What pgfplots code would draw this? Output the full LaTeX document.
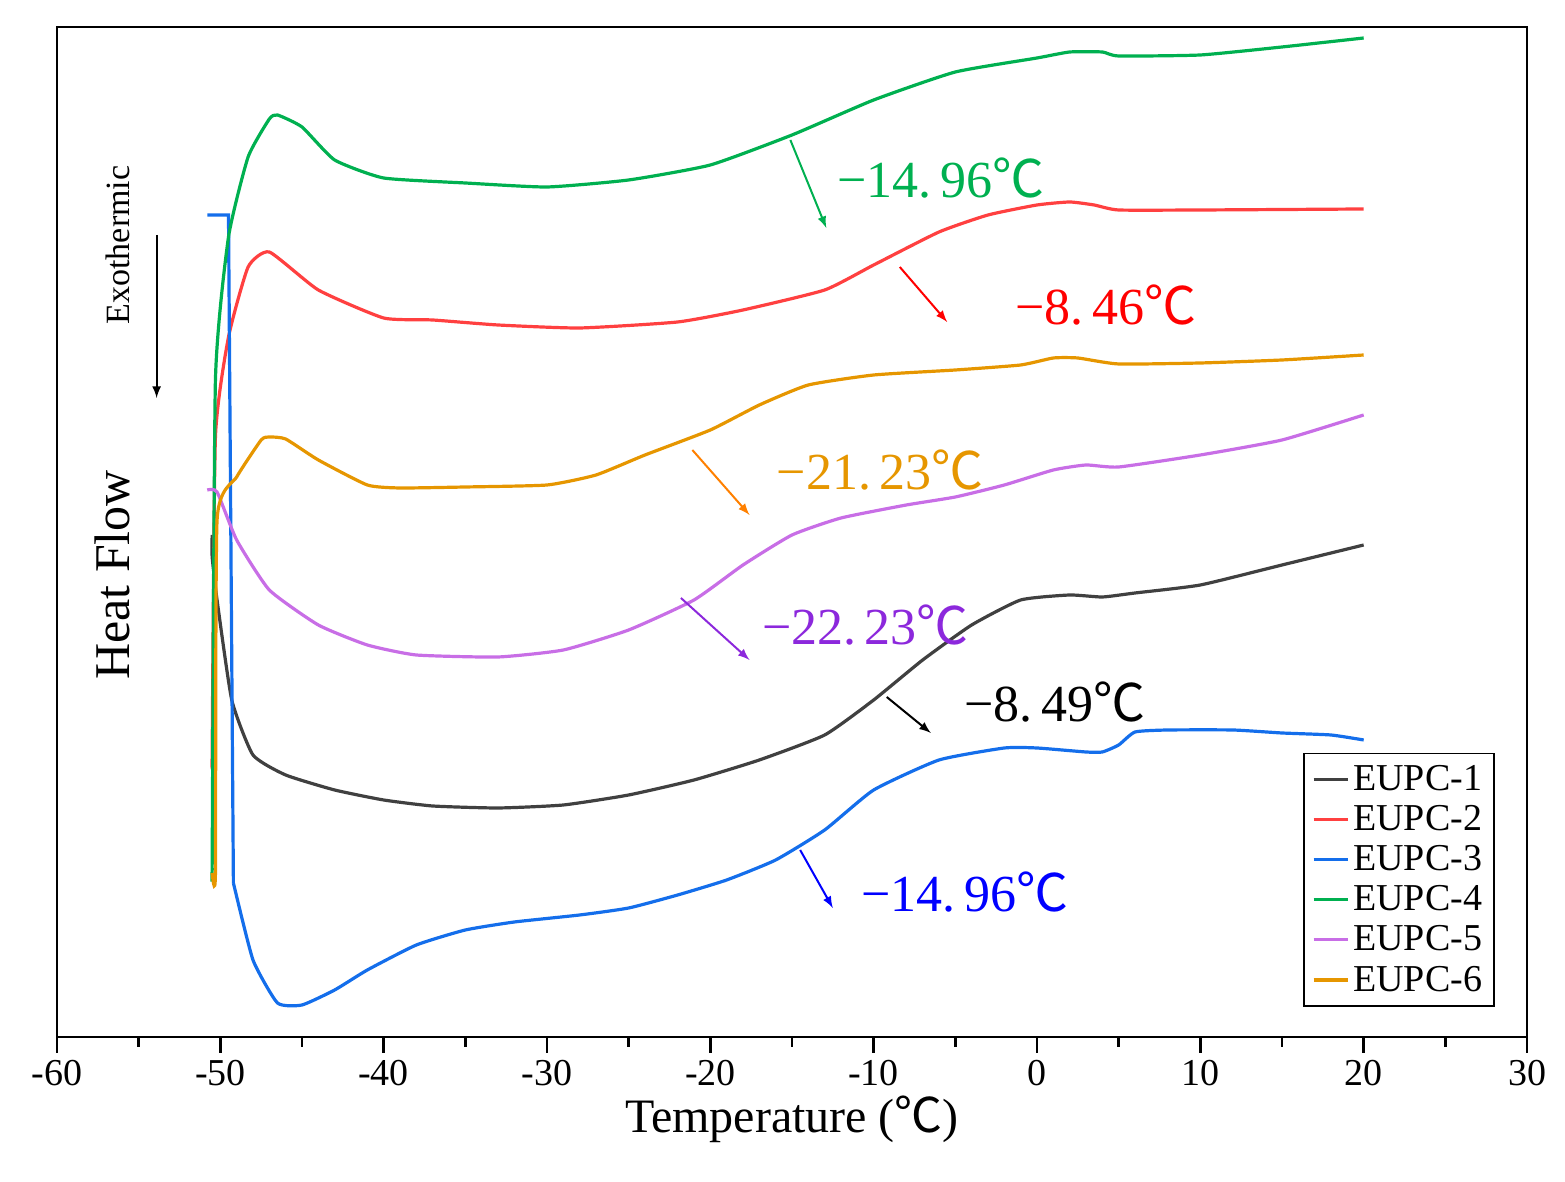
\documentclass[border=0pt]{standalone}
\usepackage{pgfplots}
\pgfplotsset{compat=1.18}
\usepackage{fontspec}
\setmainfont{Liberation Serif}
\newfontfamily\cjk{Noto Sans CJK SC}
\newcommand{\dc}{{\cjk ℃}}
\definecolor{cgreen}{RGB}{0,176,80}
\definecolor{cred}{RGB}{255,64,64}
\definecolor{cblue}{RGB}{20,110,235}
\definecolor{corange}{RGB}{230,150,0}
\definecolor{cpurple}{RGB}{200,110,230}
\definecolor{cblack}{RGB}{64,64,64}
\definecolor{vio}{RGB}{140,40,220}
\begin{document}
\begin{tikzpicture}
\path[use as bounding box] (-28.5pt,-72.5pt) rectangle (754pt,518.5pt);
\begin{axis}[
  scale only axis, width=735pt, height=505pt,
  xmin=-60, xmax=30, ymin=0, ymax=1010,
  xtick={-60,-50,...,30}, minor x tick num=1,
  ytick=\empty, tick align=outside, xtick pos=bottom,
  major tick length=8pt, minor tick length=5pt,
  axis line style={line width=1.2pt}, every tick/.style={black,line width=1.2pt},
  ticklabel style={font=\fontsize{19}{19}\selectfont},
  /pgf/number format/assume math mode=true,
  xticklabel={\pgfmathprintnumber[assume math mode=true]{\tick}},
  xlabel={\fontsize{24}{24}\selectfont Temperature (\dc)},
  xlabel style={yshift=2pt},
  clip=false,
  every axis plot/.append style={line width=1.6pt, smooth, tension=0.3},
  legend image post style={sharp plot},
  legend style={at={(rel axis cs:0.978,0.03)}, anchor=south east, font=\fontsize{19}{22}\selectfont, draw=black, line width=0.6pt, row sep=2pt, inner sep=4pt},
  legend cell align=left,
]
\addplot[cblack] coordinates {(-50.5,502)(-50.5,480)(-50.2,437)(-49.3,337)(-48,282)(-46,262)(-43,247)(-40,237)(-37,231)(-33,229)(-29,232)(-25,242)(-21,257)(-17,277)(-13,302)(-10,337)(-7,377)(-4,412)(-1,437)(2,442)(4,440)(6,444)(10,452)(15,472)(20,492)};
\addlegendentry{EUPC-1}
\addplot[cred] coordinates {(-50.5,275)(-50.5,285)(-50.3,600)(-49.5,700)(-48.3,770)(-47,785)(-44,747)(-40,719)(-37,717)(-33,712)(-28,709)(-22,715)(-18,727)(-13,747)(-10,772)(-6,805)(-3,822)(0,832)(2,835)(3.5,832)(5,827)(10,827)(20,828)};
\addlegendentry{EUPC-2}
\addplot[cblue,sharp plot] coordinates {(-50.8,822)(-49.5,822)(-49.2,154)};
\addlegendentry{EUPC-3}
\addplot[cblue,forget plot] coordinates {(-49.2,154)(-48,77)(-46.5,34)(-45,32)(-43,47)(-41,67)(-38,92)(-35,107)(-32,115)(-28,122)(-25,129)(-22,142)(-19,157)(-16,177)(-13,207)(-10,247)(-6,277)(-2,289)(0,289)(3,285)(4,285)(5,292)(6,305)(8,307)(12,307)(15,304)(18,302)(20,297)};
\addplot[cgreen] coordinates {(-50.5,169)(-50.5,175)(-50.3,657)(-49.5,800)(-48.3,880)(-47,918)(-46.5,922)(-45,910)(-43,877)(-40,859)(-35,854)(-30,850)(-25,857)(-20,872)(-15,902)(-10,937)(-5,965)(0,979)(2,985)(4,985)(5,981)(10,982)(15,990)(20,999)};
\addlegendentry{EUPC-4}
\addplot[cpurple] coordinates {(-50.8,547)(-50.2,545)(-49,497)(-47,447)(-44,412)(-41,392)(-38,382)(-33,380)(-29,387)(-25,407)(-21,437)(-18,472)(-15,502)(-12,519)(-8,532)(-5,540)(-2,552)(1,567)(3,572)(5,570)(10,582)(15,597)(20,622)};
\addlegendentry{EUPC-5}
\addplot[corange] coordinates {(-50.5,164)(-50.3,164)(-50.2,517)(-49,560)(-47.5,597)(-47,600)(-46,598)(-44,577)(-41,552)(-39,549)(-35,550)(-30,552)(-27,562)(-24,582)(-20,607)(-17,632)(-14,652)(-10,662)(-5,667)(-1,672)(1,679)(2.5,679)(5,673)(10,674)(15,677)(20,682)};
\addlegendentry{EUPC-6}
% annotations
\draw[-latex,cgreen,line width=1pt] (axis cs:-15.1,897) -- (axis cs:-12.9,809);
\node[cgreen,font=\fontsize{26}{26}\selectfont] at (axis cs:-5.9,859) {−14.\,96\dc};
\draw[-latex,red,line width=1pt] (axis cs:-8.4,770) -- (axis cs:-5.5,715);
\node[red,font=\fontsize{26}{26}\selectfont] at (axis cs:4.2,732) {−8.\,46\dc};
\draw[-latex,orange,line width=1pt] (axis cs:-21.1,587) -- (axis cs:-17.6,522);
\node[corange,font=\fontsize{26}{26}\selectfont] at (axis cs:-9.6,567) {−21.\,23\dc};
\draw[-latex,vio,line width=1pt] (axis cs:-21.8,439) -- (axis cs:-17.6,377);
\node[vio,font=\fontsize{26}{26}\selectfont] at (axis cs:-10.5,412) {−22.\,23\dc};
\draw[-latex,black,line width=1pt] (axis cs:-9.2,340) -- (axis cs:-6.5,304);
\node[black,font=\fontsize{26}{26}\selectfont] at (axis cs:1.1,335) {−8.\,49\dc};
\draw[-latex,blue,line width=1pt] (axis cs:-14.5,187) -- (axis cs:-12.5,129);
\node[blue,font=\fontsize{26}{26}\selectfont] at (axis cs:-4.4,145) {−14.\,96\dc};
\node[rotate=90,font=\fontsize{17}{17}\selectfont] at (axis cs:-56.3,792) {Exothermic};
\draw[-latex,line width=1pt] (axis cs:-53.9,802) -- (axis cs:-53.9,639);
\node[rotate=90,font=\fontsize{25}{25}\selectfont] at (axis cs:-56.6,462) {Heat Flow};
\end{axis}
\end{tikzpicture}
\end{document}
